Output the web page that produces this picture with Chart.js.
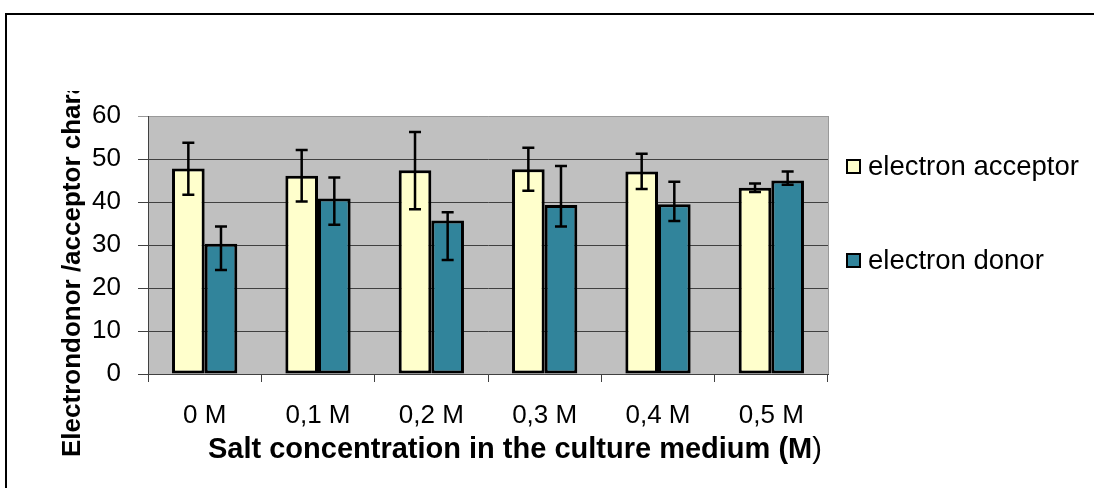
<!DOCTYPE html>
<html>
<head>
<meta charset="utf-8">
<script src="https://cdn.jsdelivr.net/npm/chart.js@4.4.0/dist/chart.umd.min.js"></script>
<style>
  html, body { margin: 0; padding: 0; background: #fff; overflow: hidden; width: 1094px; height: 488px; }
  #frame { position: absolute; left: 5px; top: 13px; width: 1200px; height: 600px; border-top: 2px solid #000; border-left: 2px solid #000; }
  #chart { position: absolute; left: 0; top: 0; }
  #legend { position: absolute; left: 846px; top: 0; font-family: 'Liberation Sans', Arial, sans-serif; font-size: 27.5px; color: #000; }
  .item { position: absolute; left: 0; height: 30px; line-height: 30px; white-space: nowrap; display: flex; align-items: center; }
  .box { width: 11px; height: 11px; border: 2px solid #000; margin-right: 7px; }
</style>
</head>
<body>
<div id="frame"></div>
<canvas id="chart" width="1094" height="488"></canvas>
<div id="legend"></div>

<script>
// Données
const categories = ['0 M', '0,1 M', '0,2 M', '0,3 M', '0,4 M', '0,5 M'];

const acceptorValues  = [47.8, 46.1, 47.4, 47.6, 47.1, 43.3];
const acceptorErrUp   = [6.0, 6.0, 8.9, 5.0, 4.1, 1.0];
const acceptorErrDown = [6.1, 6.0, 9.1, 5.0, 4.1, 1.0];

const donorValues  = [30.3, 40.8, 35.7, 39.3, 39.5, 45.0];
const donorErrUp   = [4.0, 4.9, 1.9, 9.1, 5.2, 2.1];
const donorErrDown = [6.1, 6.1, 9.2, 5.0, 3.9, 1.0];

const yMin = 0, yMax = 60, yStep = 10;

const FONT = "'Liberation Sans', Arial, sans-serif";
Chart.defaults.font.family = FONT;
Chart.defaults.color = '#000';

// Fond gris de la zone de tracé + bordure droite
const plotBackground = {
    id: 'plotBackground',
    beforeDraw(chart) {
        const a = chart.chartArea, ctx = chart.ctx;
        ctx.save();
        ctx.fillStyle = '#C0C0C0';
        ctx.fillRect(a.left, a.top, a.right - a.left, a.bottom - a.top);
        ctx.restore();
    },
    afterDraw(chart) {
        const a = chart.chartArea, ctx = chart.ctx;
        ctx.save();
        ctx.strokeStyle = '#999';
        ctx.lineWidth = 1;
        ctx.beginPath();
        ctx.moveTo(Math.round(a.right) + 0.5, a.top);
        ctx.lineTo(Math.round(a.right) + 0.5, a.bottom);
        ctx.stroke();
        ctx.restore();
    }
};

// Barres d'erreur
const errorBars = {
    id: 'errorBars',
    afterDatasetsDraw(chart) {
        const ctx = chart.ctx, y = chart.scales.y;
        ctx.save();
        ctx.strokeStyle = '#000';
        ctx.lineWidth = 2.5;
        chart.data.datasets.forEach((ds, i) => {
            chart.getDatasetMeta(i).data.forEach((bar, j) => {
                const v = ds.data[j];
                const yTop = y.getPixelForValue(v + ds.errUp[j]);
                const yBot = y.getPixelForValue(v - ds.errDown[j]);
                const x = bar.x, cap = 6;
                ctx.beginPath();
                ctx.moveTo(x, yTop); ctx.lineTo(x, yBot);
                ctx.moveTo(x - cap, yTop); ctx.lineTo(x + cap, yTop);
                ctx.moveTo(x - cap, yBot); ctx.lineTo(x + cap, yBot);
                ctx.stroke();
            });
        });
        ctx.restore();
    }
};

// Titres des axes (titre vertical coupé en haut comme sur l'original)
const axisTitles = {
    id: 'axisTitles',
    afterDraw(chart) {
        const ctx = chart.ctx;
        ctx.save();
        ctx.fillStyle = '#000';
        // titre X : "(M" en gras, ")" normal
        ctx.textBaseline = 'middle';
        ctx.textAlign = 'left';
        ctx.font = 'bold 29px ' + FONT;
        const main = 'Salt concentration in the culture medium (M';
        ctx.fillText(main, 208, 450);
        const w = ctx.measureText(main).width;
        ctx.font = '29px ' + FONT;
        ctx.fillText(')', 208 + w, 450);
        ctx.restore();

        ctx.save();
        ctx.beginPath();
        ctx.rect(0, 91, 140, 400);
        ctx.clip();
        ctx.translate(73, 457);
        ctx.rotate(-Math.PI / 2);
        ctx.fillStyle = '#000';
        ctx.font = 'bold 26px ' + FONT;
        ctx.textAlign = 'left';
        ctx.textBaseline = 'middle';
        ctx.fillText('Electrondonor /acceptor character', 0, 0);
        ctx.restore();
    }
};

const canvas = document.getElementById('chart');
const chart = new Chart(canvas, {
    type: 'bar',
    data: {
        labels: categories,
        datasets: [{
            label: 'electron acceptor',
            data: acceptorValues,
            errUp: acceptorErrUp,
            errDown: acceptorErrDown,
            backgroundColor: '#FFFFCC',
            borderColor: '#000',
            borderWidth: 3,
            borderSkipped: false
        }, {
            label: 'electron donor',
            data: donorValues,
            errUp: donorErrUp,
            errDown: donorErrDown,
            backgroundColor: '#31849B',
            borderColor: '#000',
            borderWidth: 3,
            borderSkipped: false
        }]
    },
    options: {
        responsive: false,
        animation: false,
        layout: { padding: { top: 116, right: 266, left: 0, bottom: 0 } },
        datasets: { bar: { categoryPercentage: 0.576, barPercentage: 1.0 } },
        plugins: {
            legend: { display: false },
            tooltip: { enabled: false }
        },
        scales: {
            x: {
                afterFit: s => { s.height = 114; },
                grid: { drawOnChartArea: false, drawTicks: true, tickLength: 8, color: '#404040' },
                border: { color: '#404040', width: 1 },
                ticks: { font: { size: 26 }, padding: 18, color: '#000' }
            },
            y: {
                min: yMin, max: yMax,
                afterFit: s => { s.width = 148; },
                grid: {
                    tickLength: 10,
                    color: ctx => (ctx.tick && ctx.tick.value === yMax) ? '#999' : '#404040'
                },
                border: { color: '#404040', width: 1 },
                ticks: { stepSize: yStep, font: { size: 26 }, padding: 17, color: '#000' }
            }
        }
    },
    plugins: [plotBackground, errorBars, axisTitles]
});

// Légende HTML à droite
const legendDiv = document.getElementById('legend');
const legendTops = [151, 245];
chart.data.datasets.forEach((ds, i) => {
    const item = document.createElement('div');
    item.className = 'item';
    item.style.top = legendTops[i] + 'px';
    const box = document.createElement('span');
    box.className = 'box';
    box.style.background = ds.backgroundColor;
    item.appendChild(box);
    item.appendChild(document.createTextNode(ds.label));
    legendDiv.appendChild(item);
});
</script>
</body>
</html>
